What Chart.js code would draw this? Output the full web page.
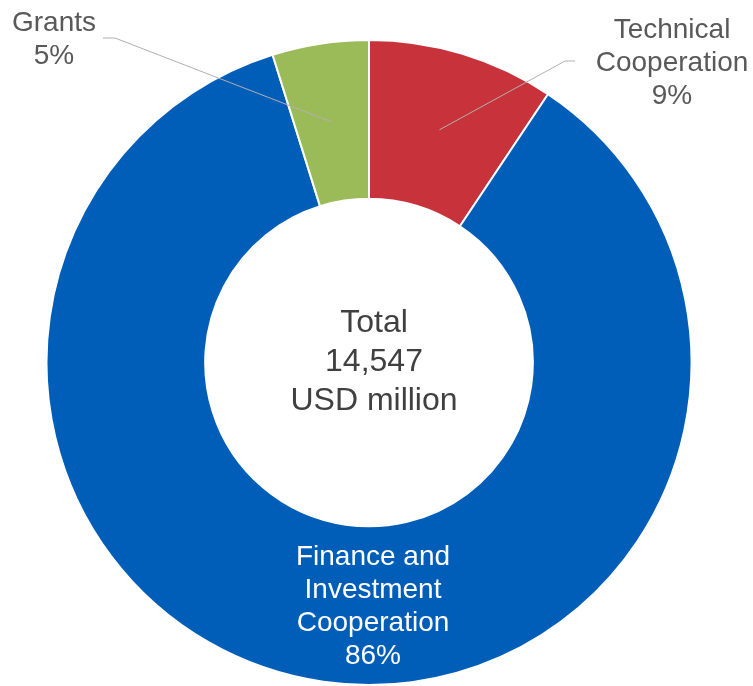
<!DOCTYPE html>
<html>
<head>
<meta charset="utf-8">
<script src="https://cdn.jsdelivr.net/npm/chart.js@4"></script>
<style>
  html, body { margin: 0; padding: 0; background: #fff; }
  #wrap { width: 753px; height: 686px; position: relative; }
</style>
</head>
<body>
<div id="wrap"><canvas id="donut"></canvas></div>
<script>
// data (USD million)
const categories = ['Technical\nCooperation', 'Finance and\nInvestment\nCooperation', 'Grants'];
const amounts = [1362, 12482, 703];
const sliceColors = ['#C8333B', '#005EB8', '#9BBB59'];
const totalLabel = ['Total', '14,547', 'USD million'];

const total = amounts.reduce((a, b) => a + b, 0);
const FONT = '"Liberation Sans", Arial, sans-serif';

// where each data label sits (style only, not data)
const labelSpots = [
  { x: 672, y: 30, color: '#595959', elbow: [565, 61], end: [575, 61] },
  { x: 373, y: 557, color: '#FFFFFF' },
  { x: 54, y: 23, color: '#595959', elbow: [115, 38], end: [103, 38] }
];

const labelsPlugin = {
  id: 'labels',
  afterDatasetsDraw(chart) {
    const ctx = chart.ctx;
    const meta = chart.getDatasetMeta(0);
    ctx.save();
    ctx.textAlign = 'center';
    ctx.textBaseline = 'middle';

    // center text
    const arc0 = meta.data[0];
    ctx.fillStyle = '#404040';
    ctx.font = '32px ' + FONT;
    totalLabel.forEach((t, i) => {
      ctx.fillText(t, arc0.x + 5, arc0.y - 39 + i * 39);
    });

    meta.data.forEach((arc, i) => {
      const spot = labelSpots[i];
      const pos = arc.tooltipPosition();
      if (spot.elbow) {
        ctx.strokeStyle = '#B0B0B0';
        ctx.lineWidth = 1;
        ctx.beginPath();
        ctx.moveTo(pos.x, pos.y);
        ctx.lineTo(spot.elbow[0], spot.elbow[1]);
        ctx.lineTo(spot.end[0], spot.end[1]);
        ctx.stroke();
      }
      const pct = Math.round(amounts[i] / total * 100) + '%';
      const lines = categories[i].split('\n').concat(pct);
      ctx.fillStyle = spot.color;
      ctx.font = '28px ' + FONT;
      lines.forEach((t, j) => {
        ctx.fillText(t, spot.x, spot.y + j * 33);
      });
    });
    ctx.restore();
  }
};

new Chart(document.getElementById('donut'), {
  type: 'doughnut',
  data: {
    labels: categories,
    datasets: [{
      data: amounts,
      backgroundColor: sliceColors,
      borderColor: '#FFFFFF',
      borderWidth: 2
    }]
  },
  options: {
    responsive: true,
    maintainAspectRatio: false,
    devicePixelRatio: 1,
    animation: false,
    cutout: '50.8%',
    layout: { padding: { left: 45, right: 60, top: 39, bottom: 0 } },
    plugins: {
      legend: { display: false },
      tooltip: { enabled: false }
    }
  },
  plugins: [labelsPlugin]
});
</script>
</body>
</html>
